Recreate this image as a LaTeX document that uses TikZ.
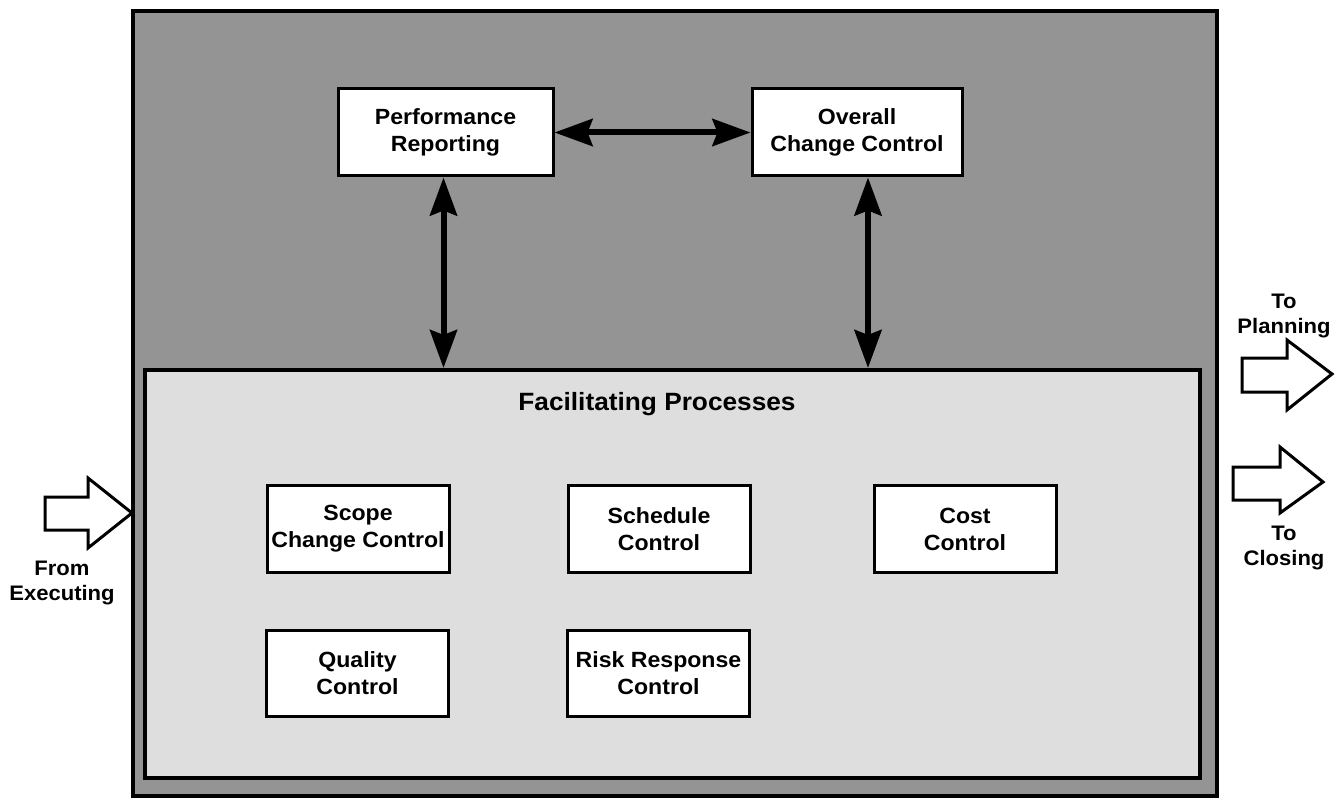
\documentclass[tikz,border=0pt]{standalone}
\usepackage{fontspec}
\setmainfont{Liberation Sans}[FakeStretch=1.05]
\usetikzlibrary{arrows.meta,calc}

\begin{document}
\begin{tikzpicture}[x=1pt,y=-1pt,
  frame/.style={draw, line width=4pt, inner sep=0pt},
  procbox/.style={draw, line width=3pt, fill=white, inner sep=1pt, align=center,
    minimum width=182pt, minimum height=87pt,
    font=\fontsize{22}{27}\selectfont\bfseries},
  label/.style={align=center, inner sep=0pt, font=\fontsize{21}{25}\selectfont\bfseries},
  link/.style={line width=6pt, {Stealth[length=38pt,width=27pt,inset=5pt]}-{Stealth[length=38pt,width=27pt,inset=5pt]}},
  blockarrow/.style={draw, line width=3pt, fill=white, line join=miter}
]
\useasboundingbox (0,0) rectangle (1335,799);

% shaded monitoring area and the facilitating area inside it
\node[frame, fill=black!42, minimum width=1084pt, minimum height=785pt] (mon) at (675,403.5) {};
\node[frame, fill=black!13, minimum width=1055pt, minimum height=408pt] (fac) at (672.5,574) {};
\node[label, font=\fontsize{25}{28}\selectfont\bfseries] (factitle) at (657,404) {Facilitating Processes};

% core processes
\node[procbox, minimum width=215pt] (perf) at (445.5,132.5) {Performance\\Reporting};
\node[procbox, minimum width=210pt] (overall) at (857,132.5) {Overall\\Change Control};

% facilitating processes
\node[procbox] (scope) at (358,529) {Scope\\Change Control};
\node[procbox] (sched) at (659,529) {Schedule\\Control};
\node[procbox] (cost) at (965,529) {Cost\\Control};
\node[procbox, minimum height=86pt] (quality) at (357.5,673) {Quality\\Control};
\node[procbox, minimum height=86pt] (risk) at (658.5,673) {Risk Response\\Control};

% two-way links
\draw[link] (perf.east) -- (overall.west);
\draw[link] ([xshift=-2pt]perf.south) -- ([xshift=-2pt]perf.south |- fac.north);
\draw[link] ([xshift=11pt]overall.south) -- ([xshift=11pt]overall.south |- fac.north);

% incoming and outgoing process groups
\coordinate (inTip) at (132,513);
\draw[blockarrow] (45,497) -- (88,497) -- (88,478) -- (inTip) -- (88,548) -- (88,530) -- (45,530) -- cycle;
\node[label] (fromexec) at (62,583) {From\\Executing};

\coordinate (planTip) at (1332,374);
\draw[blockarrow] (1242,358) -- (1287,358) -- (1287,340) -- (planTip) -- (1287,410) -- (1287,392) -- (1242,392) -- cycle;
\node[label] (toplan) at (1284,316) {To\\Planning};

\coordinate (closeTip) at (1323,482);
\draw[blockarrow] (1233,467) -- (1280,467) -- (1280,447) -- (closeTip) -- (1280,513) -- (1280,500) -- (1233,500) -- cycle;
\node[label] (toclose) at (1284,548) {To\\Closing};
\end{tikzpicture}
\end{document}
